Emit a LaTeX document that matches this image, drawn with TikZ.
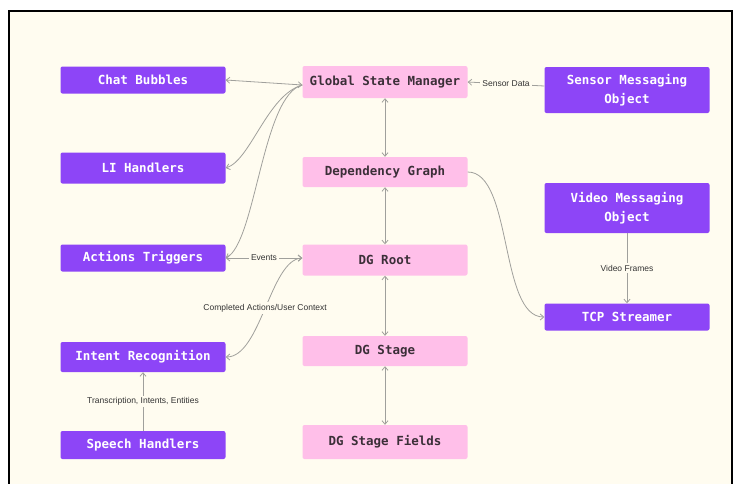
\documentclass[tikz,border=0pt]{standalone}
\usepackage{fontspec}
\setmainfont{Liberation Sans}
\newfontfamily\monof{DejaVu Sans Mono}
\usetikzlibrary{arrows.meta}
\definecolor{bgc}{HTML}{FFFCF0}
\definecolor{purp}{HTML}{8D45F7}
\definecolor{pinkc}{HTML}{FFBFE9}
\definecolor{pinktext}{HTML}{3B2F38}
\definecolor{linec}{HTML}{A0A09C}
\definecolor{labc}{HTML}{333333}
\tikzset{
  boxbase/.style={rectangle, rounded corners=2pt, minimum width=165pt, align=center,
    font=\monof\bfseries\fontsize{12.5}{19}\selectfont, inner sep=2pt},
  pbox/.style={boxbase, fill=purp, text=white},
  kbox/.style={boxbase, fill=pinkc, text=pinktext},
  conn/.style={draw=linec, line width=0.8pt, >={Straight Barb[length=3.5pt,width=6pt]}},
  lab/.style={font=\fontsize{8.5}{9}\selectfont, text=labc, fill=bgc, inner sep=2pt}
}
\begin{document}
\begin{tikzpicture}[x=1pt,y=-1pt]
\useasboundingbox (0,0) rectangle (736,483);
\fill[white] (0,0) rectangle (736,483);
\fill[bgc] (9,11) rectangle (732,490);
\draw[black, line width=2pt] (9,11) rectangle (732,490);

% left column
\node[pbox, minimum height=27pt] (cb) at (143,80) {Chat Bubbles};
\node[pbox, minimum height=31pt] (li) at (143,168) {LI Handlers};
\node[pbox, minimum height=27pt] (at) at (143,258) {Actions Triggers};
\node[pbox, minimum height=30pt] (ir) at (143,357) {Intent Recognition};
\node[pbox, minimum height=28pt] (sh) at (143,445) {Speech Handlers};

% centre column
\node[kbox, minimum height=32pt] (gsm) at (385,82) {Global State Manager};
\node[kbox, minimum height=30pt] (dg) at (385,172) {Dependency Graph};
\node[kbox, minimum height=31pt] (dgr) at (385,260) {DG Root};
\node[kbox, minimum height=30pt] (dgs) at (385,351) {DG Stage};
\node[kbox, minimum height=34pt] (dgf) at (385,442) {DG Stage Fields};

% right column
\node[pbox, minimum height=46pt] (smo) at (627,90) {Sensor Messaging\\Object};
\node[pbox, minimum height=50pt] (vmo) at (627,208) {Video Messaging\\Object};
\node[pbox, minimum height=27pt] (tcp) at (627,317) {TCP Streamer};

% connectors
\draw[conn,<->] (cb.east) -- ([yshift=-3pt]gsm.west);
\draw[conn,->] ([yshift=-3pt]gsm.west) .. controls +(-35,10) and +(25,-8) .. (li.east);
\draw[conn,->] ([yshift=-3pt]gsm.west) .. controls +(-40,10) and +(30,-15) .. (at.east);
\draw[conn,->] ([yshift=4pt]smo.west) -- node[lab, pos=0.5] {Sensor Data} (gsm.east);
\draw[conn,<->] (gsm.south) -- (dg.north);
\draw[conn,<->] (dg.south) -- (dgr.north);
\draw[conn,<->] (dgr.south) -- (dgs.north);
\draw[conn,<->] (dgs.south) -- (dgf.north);
\draw[conn,->] (dg.east) .. controls +(45,0) and +(-45,0) .. (tcp.west);
\draw[conn,->] (vmo.south) -- node[lab, pos=0.5] {Video Frames} (tcp.north);
\draw[conn,<->] (at.east) -- node[lab, pos=0.5] {Events} ([yshift=2pt]dgr.west);
\draw[conn,<->] (ir.east) .. controls +(35,0) and +(-32,2) .. node[lab, pos=0.5] {Completed Actions/User Context} ([yshift=2pt]dgr.west);
\draw[conn,->] (sh.north) -- node[lab, pos=0.5] {Transcription, Intents, Entities} (ir.south);
\end{tikzpicture}
\end{document}
